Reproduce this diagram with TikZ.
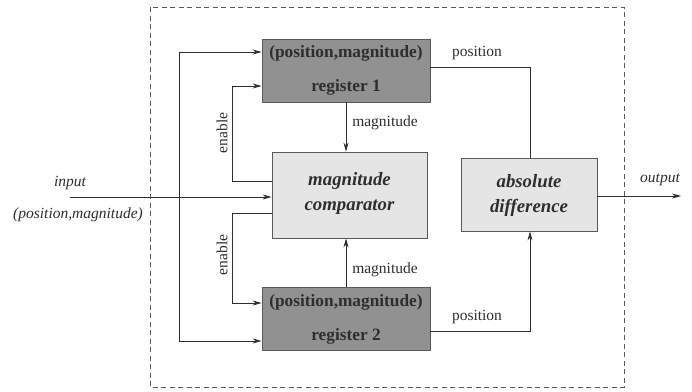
\documentclass[tikz,border=0pt]{standalone}
\usepackage{fontspec}
\setmainfont{Liberation Serif}
\usetikzlibrary{arrows.meta}
\definecolor{regfill}{gray}{0.57}
\definecolor{cmpfill}{gray}{0.90}
\definecolor{edgegray}{gray}{0.35}
\definecolor{inkgray}{gray}{0.18}
\begin{document}
\begin{tikzpicture}[x=1pt,y=-1pt,
  wire/.style={draw=inkgray, line width=0.8pt},
  arr/.style={wire, -{Stealth[length=9pt,width=5pt]}},
  regbox/.style={draw=edgegray, fill=regfill, line width=0.8pt,
    minimum width=168pt, minimum height=63pt, inner sep=0pt},
  cmpbox/.style={draw=edgegray, fill=cmpfill, line width=0.8pt, inner sep=0pt},
  regtxt/.style={font=\fontsize{17.3}{20}\selectfont\bfseries, text=inkgray},
  boxtxt/.style={font=\fontsize{18.8}{25}\selectfont\bfseries\itshape, text=inkgray, align=center},
  lbl/.style={font=\fontsize{15.5}{18}\selectfont, text=inkgray, inner sep=0pt},
  ilbl/.style={font=\fontsize{15.5}{18}\selectfont\itshape, text=inkgray, inner sep=0pt}
]
\useasboundingbox (0,0) rectangle (692,391);

% enclosing dashed boundary
\draw[draw=edgegray, line width=0.8pt, dash pattern=on 5pt off 3.5pt] (150,7) rectangle (624,387);

% register blocks
\node[regbox] (reg1) at (346,70.5) {};
\node[regtxt] (reg1a) at (346,53) {(position,magnitude)};
\node[regtxt] (reg1b) at (346,87) {register 1};
\node[regbox] (reg2) at (346,318.5) {};
\node[regtxt] (reg2a) at (346,302) {(position,magnitude)};
\node[regtxt] (reg2b) at (346,336) {register 2};

% processing blocks
\node[cmpbox, minimum width=155pt, minimum height=86pt] (comp) at (349.5,195) {};
\node[boxtxt] (compt) at (349.5,193) {magnitude\\comparator};
\node[cmpbox, minimum width=136pt, minimum height=73pt] (absd) at (529,194.5) {};
\node[boxtxt] (absdt) at (529,195) {absolute\\difference};

% routing points
\coordinate (inL) at (70,197);
\coordinate (busT) at (179,52);
\coordinate (busB) at (179,341);
\coordinate (en1) at (232,181);
\coordinate (en1t) at (232,86);
\coordinate (en2) at (232,213);
\coordinate (en2b) at (232,303);
\coordinate (p1) at (530,67);
\coordinate (p2) at (530,331);
\coordinate (outR) at (681,196);

% input and load bus
\draw[arr] (inL) -- (inL -| comp.west);
\draw[arr] (busB) -- (busT) -- (busT -| reg1.west);
\draw[arr] (busT) -- (busB) -- (busB -| reg2.west);

% enable feedback
\draw[arr] (en1 -| comp.west) -- (en1) -- (en1t) -- (en1t -| reg1.west);
\draw[arr] (en2 -| comp.west) -- (en2) -- (en2b) -- (en2b -| reg2.west);

% magnitudes into the comparator
\draw[arr] (reg1.south -| 346,0) -- (comp.north -| 346,0);
\draw[arr] (reg2.north -| 346,0) -- (comp.south -| 346,0);

% positions into the difference block
\draw[wire] (p1 -| reg1.east) -- (p1) -- (p1 |- absd.north);
\draw[arr] (p2 -| reg2.east) -- (p2) -- (p2 |- absd.south);

% output
\draw[arr] (outR -| absd.east) -- (outR);

% labels
\node[ilbl] (linput) at (70,183) {input};
\node[ilbl] (linpair) at (78,215) {(position,magnitude)};
\node[ilbl] (loutput) at (660,180) {output};
\node[lbl, rotate=90] (len1) at (222,133) {enable};
\node[lbl, rotate=90] (len2) at (222,255) {enable};
\node[lbl] (lmag1) at (385,123) {magnitude};
\node[lbl] (lmag2) at (385,270) {magnitude};
\node[lbl] (lpos1) at (477,53) {position};
\node[lbl] (lpos2) at (477,317) {position};
\end{tikzpicture}
\end{document}
